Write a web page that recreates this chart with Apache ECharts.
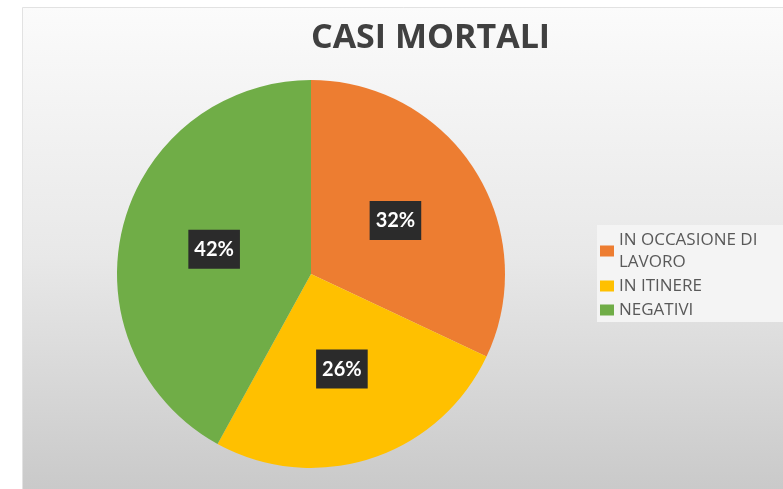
<!DOCTYPE html>
<html>
<head>
<meta charset="utf-8">
<script src="https://cdn.jsdelivr.net/npm/echarts@6/dist/echarts.min.js"></script>
<style>
  html, body { margin: 0; padding: 0; background: #fff; }
  #chart { width: 783px; height: 489px; }
</style>
</head>
<body>
<div id="chart"></div>
<script>
// dati del grafico
var categorie = ['IN OCCASIONE DI\nLAVORO', 'IN ITINERE', 'NEGATIVI']
var valori = [32, 26, 42]
var colori = ['#ED7D31', '#FFC000', '#70AD47']

var chart = echarts.init(document.getElementById('chart'))

var option = {
  animation: false,
  // sfondo del riquadro
  graphic: [{
    type: 'rect',
    left: 22,
    top: 7,
    z: -10,
    shape: { width: 790, height: 500 },
    style: {
      fill: {
        type: 'linear', x: 0, y: 0, x2: 0, y2: 1,
        colorStops: [
          { offset: 0, color: '#fbfbfb' },
          { offset: 0.5, color: '#e8e8e8' },
          { offset: 1, color: '#c7c7c7' }
        ]
      },
      stroke: '#e2e2e2',
      lineWidth: 1
    }
  }],
  title: {
    text: 'CASI MORTALI',
    left: 306,
    top: 16,
    textStyle: {
      fontFamily: 'Open Sans',
      fontWeight: 'bold',
      fontSize: 34,
      color: '#404040'
    }
  },
  legend: {
    orient: 'vertical',
    left: 597,
    top: 225,
    padding: [4, 40, 1, 3],
    backgroundColor: 'rgba(244,244,244,0.95)',
    itemWidth: 14,
    itemHeight: 11,
    itemGap: 2,
    icon: 'rect',
    data: categorie,
    textStyle: {
      fontFamily: 'Open Sans',
      fontSize: 17,
      lineHeight: 22,
      color: '#595959'
    }
  },
  series: [{
    type: 'pie',
    center: [311, 274],
    radius: 194,
    startAngle: 90,
    clockwise: true,
    color: colori,
    label: {
      show: true,
      position: 'inside',
      formatter: '{d}%',
      fontFamily: 'Lato',
      fontWeight: 'bold',
      fontSize: 20,
      color: '#fff',
      backgroundColor: '#2b2b2b',
      padding: [10, 6, 9, 6]
    },
    labelLine: { show: false },
    emphasis: { disabled: true },
    data: categorie.map(function (c, i) {
      return { name: c, value: valori[i] }
    })
  }]
}

chart.setOption(option)
</script>
</body>
</html>
